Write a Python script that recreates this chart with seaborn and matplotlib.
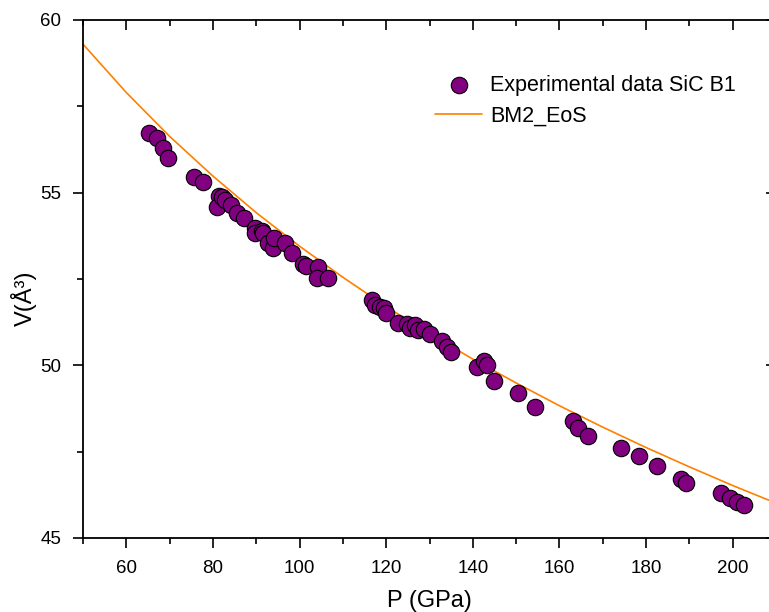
import matplotlib
matplotlib.use("Agg")
import matplotlib.pyplot as plt
import pandas as pd
import seaborn as sns
from matplotlib.ticker import MultipleLocator

pressure = [
    65.2, 67.0, 68.5, 69.7, 75.6, 77.6, 81.5, 81.0, 82.2, 82.8,
    84.1, 85.5, 87.2, 89.7, 89.7, 91.3, 91.5, 92.8, 93.8, 94.0,
    96.7, 98.3, 100.9, 101.5, 104.2, 104.0, 106.6, 116.8, 117.4, 118.6,
    119.4, 120.0, 122.8, 124.7, 125.5, 126.7, 127.4, 128.8, 130.0, 132.8,
    134.0, 134.9, 140.9, 142.6, 143.2, 144.8, 150.5, 154.4, 163.2, 164.4,
    166.7, 174.2, 178.3, 182.6, 188.1, 189.3, 197.3, 199.3, 201.0, 202.5,
]
volume = [
    56.72, 56.57, 56.30, 55.99, 55.44, 55.32, 54.91, 54.58, 54.87, 54.79,
    54.64, 54.40, 54.26, 53.97, 53.82, 53.90, 53.82, 53.53, 53.39, 53.68,
    53.55, 53.24, 52.93, 52.88, 52.84, 52.54, 52.52, 51.89, 51.75, 51.70,
    51.65, 51.52, 51.24, 51.19, 51.07, 51.17, 51.02, 51.04, 50.91, 50.71,
    50.54, 50.38, 49.96, 50.13, 50.00, 49.55, 49.19, 48.80, 48.40, 48.18,
    47.95, 47.62, 47.37, 47.08, 46.71, 46.60, 46.29, 46.17, 46.05, 45.97,
]

# BM2 EoS curve
fit_pressure = [50, 60, 70, 80, 90, 100, 110, 120, 130, 140,
                150, 160, 170, 180, 190, 200, 210]
fit_volume = [59.30, 57.90, 56.63, 55.48, 54.42, 53.45, 52.55, 51.70, 50.92, 50.18,
              49.49, 48.83, 48.21, 47.62, 47.06, 46.52, 46.01]

sns.set_style("white")
plt.rcParams["font.family"] = ["Liberation Sans", "DejaVu Sans"]
plt.rcParams["text.color"] = "black"
plt.rcParams["axes.labelcolor"] = "black"

df = pd.DataFrame({"P": pressure, "V": volume})
df_fit = pd.DataFrame({"P": fit_pressure, "V": fit_volume})

fig = plt.figure(figsize=(7.69, 6.12), dpi=100)
ax = fig.add_axes([83 / 769, 74 / 612, 693 / 769, 518 / 612])

sns.scatterplot(
    data=df, x="P", y="V", ax=ax,
    color="#800080", edgecolor="black", linewidth=0.8, s=140,
    label="Experimental data SiC B1", zorder=3,
)
sns.lineplot(
    data=df_fit, x="P", y="V", ax=ax,
    color="#FF8000", linewidth=1.2, label="BM2_EoS", zorder=2,
)

ax.set_xlim(50, 210)
ax.set_ylim(45, 60)
ax.xaxis.set_major_locator(MultipleLocator(20))
ax.xaxis.set_minor_locator(MultipleLocator(10))
ax.yaxis.set_major_locator(MultipleLocator(5))
ax.yaxis.set_minor_locator(MultipleLocator(2.5))

for side in ["left", "right", "top", "bottom"]:
    ax.spines[side].set_visible(True)
    ax.spines[side].set_color("black")
    ax.spines[side].set_linewidth(1.3)

ax.tick_params(which="both", direction="out", bottom=True, left=True,
               top=True, right=True, labeltop=False, labelright=False,
               width=1.2, colors="black", labelcolor="black",
               labelsize=13.5, pad=8)
ax.tick_params(which="major", length=7.5)
ax.tick_params(which="minor", length=4.5)
# mirrored ticks on top/right point inward
for t in ax.xaxis.get_major_ticks() + ax.xaxis.get_minor_ticks():
    t.tick2line.set_marker(matplotlib.lines.TICKDOWN)
for t in ax.yaxis.get_major_ticks() + ax.yaxis.get_minor_ticks():
    t.tick2line.set_marker(matplotlib.lines.TICKLEFT)

ax.set_xlabel("P (GPa)", fontsize=17)
ax.set_ylabel("V(Å³)", fontsize=17)
ax.xaxis.set_label_coords(0.5, -0.1)
ax.yaxis.set_label_coords(-0.067, 0.463)

ax.legend(
    loc="upper left", bbox_to_anchor=(435 / 769, 1 - 75 / 612),
    bbox_transform=fig.transFigure, frameon=False, fontsize=15.5,
    handlelength=2.2, handletextpad=0.35, labelspacing=0.45,
    borderpad=0, borderaxespad=0,
)

fig.savefig("out.png", dpi=100)
